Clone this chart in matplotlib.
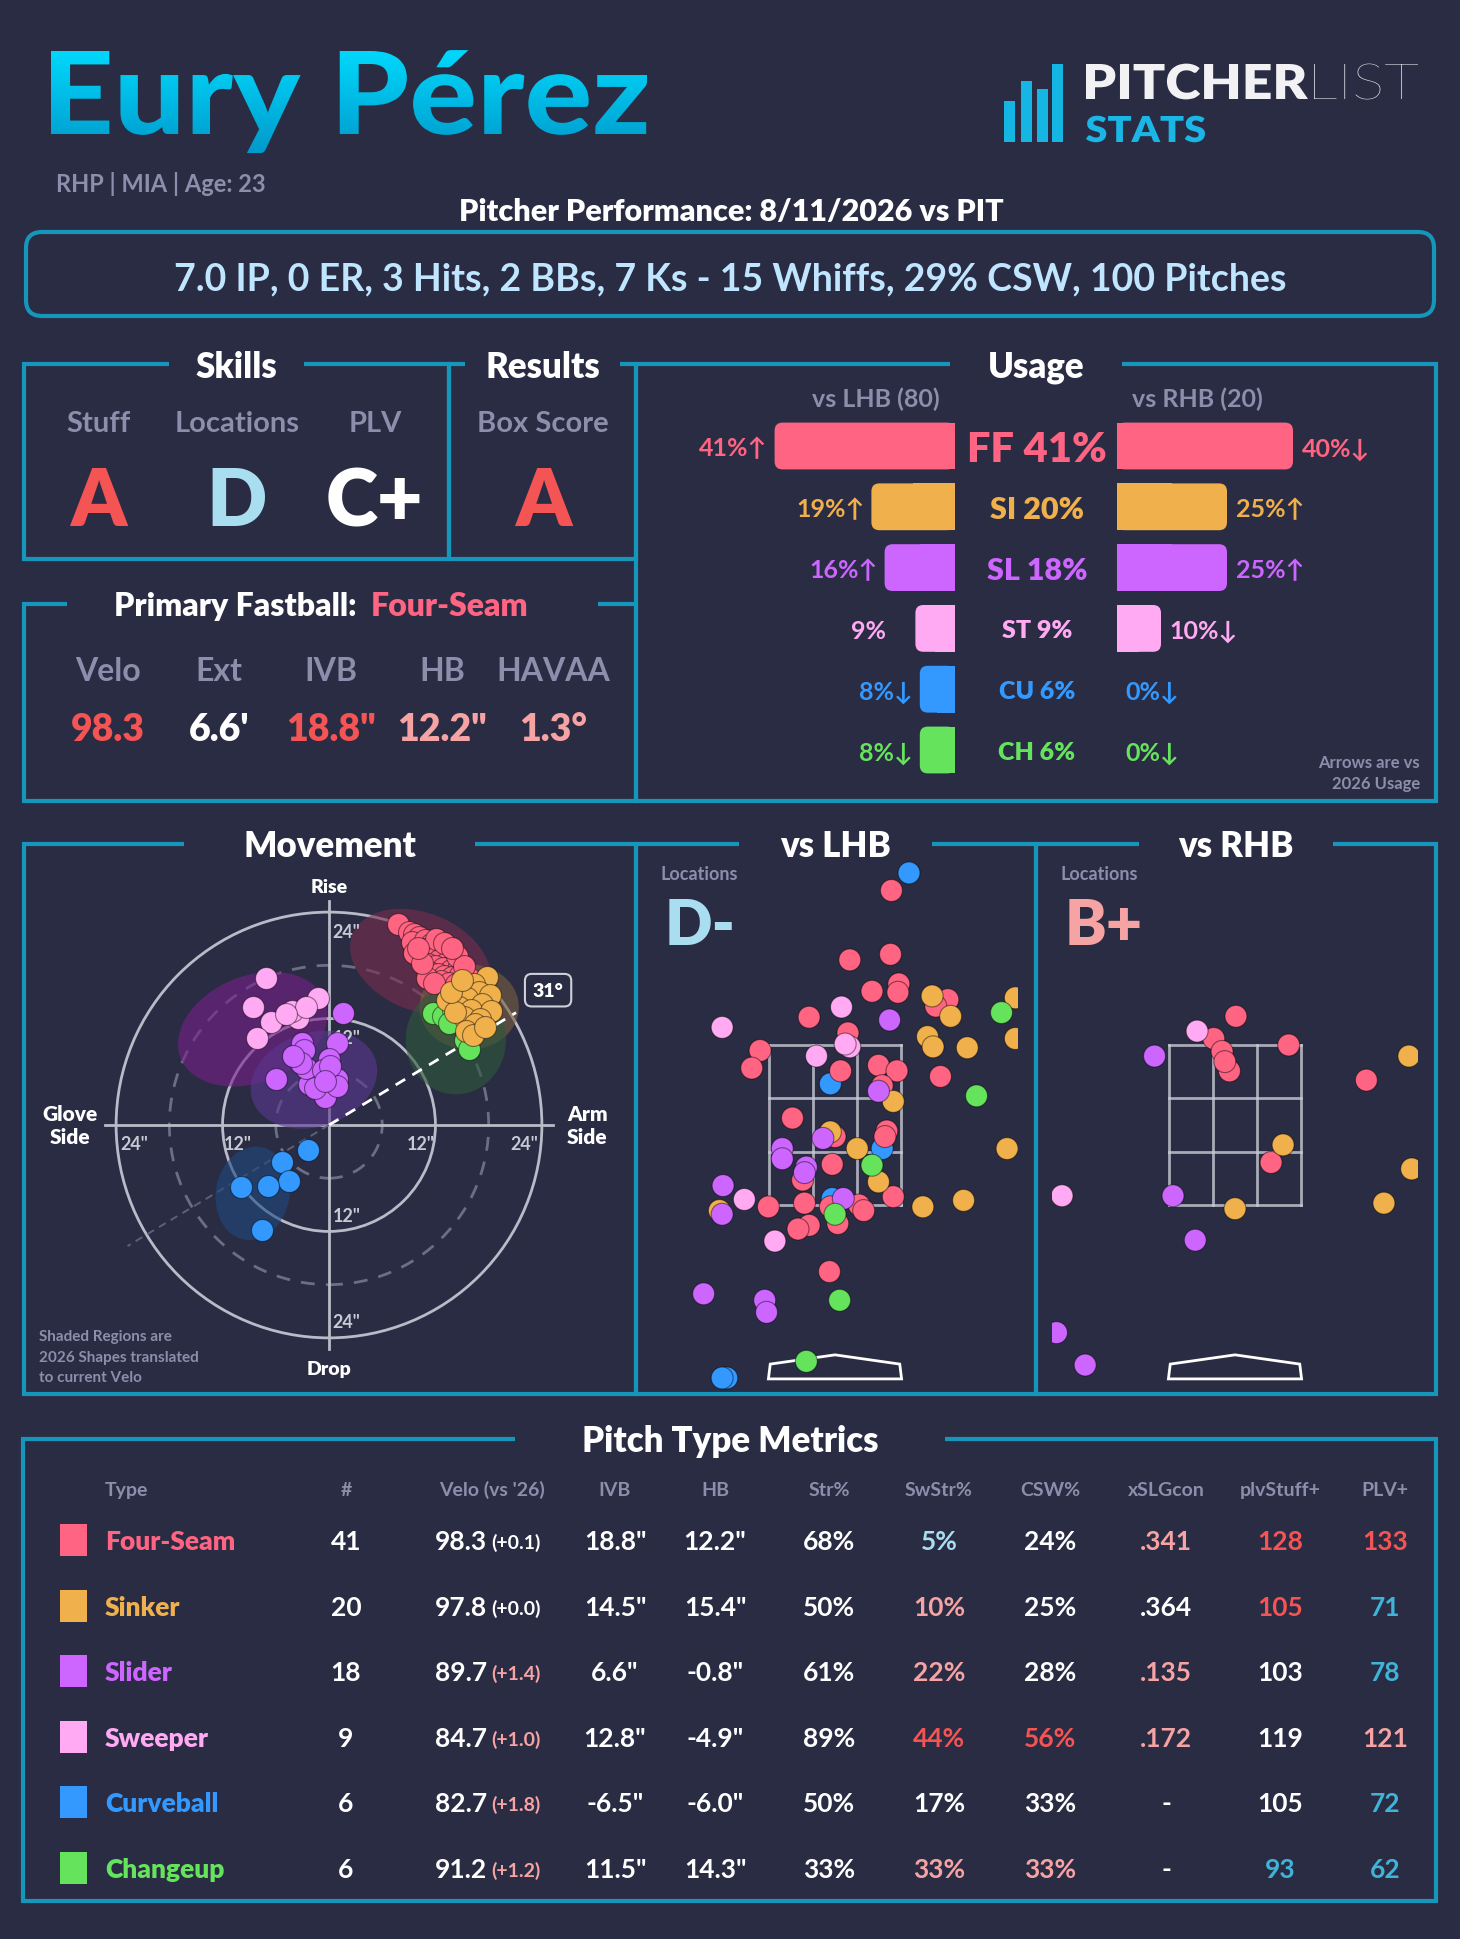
import numpy as np
import matplotlib
matplotlib.use("Agg")
import matplotlib.pyplot as plt
from matplotlib.patches import Rectangle, FancyBboxPatch, Circle, Ellipse, Polygon, PathPatch
from matplotlib.textpath import TextPath
from matplotlib.font_manager import FontProperties
from matplotlib.transforms import Affine2D, blended_transform_factory
from matplotlib.colors import LinearSegmentedColormap

W, H = 1460, 1940
BG = "#2a2c43"
TEAL = "#1596ba"
GRAY = "#8b8fab"
WHITE = "#ffffff"
RED = "#f55454"
LRED = "#f5a3a3"
LBLUE = "#a8def0"
BLUE = "#3fb4d8"
FONT = ["Lato", "DejaVu Sans"]

# ---------------- data ----------------
player = "Eury Pérez"
bio = "RHP | MIA | Age: 23"
game = "Pitcher Performance: 8/11/2026 vs PIT"
line = "7.0 IP, 0 ER, 3 Hits, 2 BBs, 7 Ks - 15 Whiffs, 29% CSW, 100 Pitches"

pitch_codes = ["FF", "SI", "SL", "ST", "CU", "CH"]
pitch_names = ["Four-Seam", "Sinker", "Slider", "Sweeper", "Curveball", "Changeup"]
pitch_colors = ["#ff6482", "#f0b04c", "#cc66ff", "#ffaaf2", "#3399ff", "#66e35c"]
colmap = dict(zip(pitch_codes, pitch_colors))

grade_labels = ["Stuff", "Locations", "PLV", "Box Score"]
grades = ["A", "D", "C+", "A"]
grade_colors = [RED, LBLUE, WHITE, RED]

fb_labels = ["Velo", "Ext", "IVB", "HB", "HAVAA"]
fb_values = ["98.3", "6.6'", '18.8"', '12.2"', "1.3°"]
fb_colors = [RED, WHITE, RED, LRED, LRED]

usage_all = [41, 20, 18, 9, 6, 6]
usage_lhb = [41, 19, 16, 9, 8, 8]
arrow_lhb = ["↑", "↑", "↑", "", "↓", "↓"]
usage_rhb = [40, 25, 25, 10, 0, 0]
arrow_rhb = ["↓", "↑", "↑", "↓", "↓", "↓"]
n_lhb, n_rhb = 80, 20

# movement (HB, IVB in inches)
ff_hb = [7.8, 9.0, 9.6, 10.2, 9.4, 10.8, 11.5, 12.3, 10.6, 11.9, 12.8, 13.4, 9.6, 10.9, 11.7, 12.4, 13.2, 14.0, 11.2, 12.0, 12.8,
         13.7, 14.5, 11.5, 12.3, 13.0, 13.9, 14.8, 15.8, 12.6, 13.5, 14.3, 11.0, 10.5, 12.1, 13.0, 14.4, 10.0, 11.8, 15.2, 13.9]
ff_ivb = [22.7, 21.8, 21.5, 21.2, 20.6, 20.9, 20.4, 20.2, 19.8, 19.6, 19.5, 19.2, 19.4, 19.0, 18.8, 18.6, 18.3, 18.2, 18.1, 17.9, 17.7,
          17.5, 17.6, 17.1, 17.0, 16.8, 16.7, 16.9, 16.6, 16.2, 16.0, 15.9, 16.6, 18.3, 21.0, 20.5, 19.0, 20.0, 16.0, 17.9, 20.0]
si_hb = [17.8, 16.3, 14.9, 16.9, 18.1, 15.6, 13.3, 17.2, 14.6, 16.0, 18.3, 15.2, 17.0, 14.2, 16.5, 15.4, 16.2, 13.8, 17.6, 15.0]
si_ivb = [16.7, 15.9, 15.4, 15.0, 14.6, 14.3, 14.1, 13.6, 13.3, 13.0, 12.8, 12.2, 12.0, 12.7, 11.4, 10.6, 10.2, 15.0, 11.1, 16.4]
sl_hb = [1.6, 0.9, -3.0, -2.8, 0.0, -1.4, 0.9, -6.0, -2.3, -0.5, -2.6, -3.2, -0.7, 0.9, -1.6, -4.1, 0.1, -0.4]
sl_ivb = [12.6, 9.3, 9.3, 8.4, 7.4, 5.4, 5.2, 5.2, 4.6, 3.2, 6.4, 7.0, 6.2, 4.4, 4.2, 7.8, 6.6, 5.0]
st_hb = [-7.1, -8.6, -6.5, -8.1, -1.2, -3.5, -4.2, -2.6, -4.8]
st_ivb = [16.6, 13.3, 11.6, 9.8, 14.3, 12.1, 12.9, 13.3, 12.5]
cu_hb = [-2.4, -5.3, -4.5, -6.9, -9.9, -7.6]
cu_ivb = [-2.8, -4.2, -6.3, -6.9, -7.0, -11.8]
ch_hb = [11.7, 12.9, 15.3, 15.8, 14.0, 13.5]
ch_ivb = [12.6, 12.3, 9.6, 8.6, 13.0, 11.5]
arm_angle = 31

# 2026 shapes (translated), as ellipses
shape_codes = ["FF", "SI", "CH", "ST", "SL", "CU"]
shape_hb = [10.3, 15.8, 14.3, -8.6, -1.7, -8.6]
shape_ivb = [18.4, 13.3, 9.6, 10.8, 5.1, -7.7]
shape_w = [16.5, 11.2, 11.3, 17.5, 14.6, 8.3]
shape_h = [11.0, 9.6, 12.3, 12.0, 10.6, 10.6]
shape_angle = [-22, 0, 0, 22, 18, -10]
shape_colors = ["#7a2f4f", "#7a6040", "#2f5a3a", "#7a1f8c", "#5c3890", "#1f4a80"]

# locations (plate_x, plate_z in feet)
lhb_x = [0.80, -0.05, 0.51, -0.03, -1.17, -1.22,
         0.61, 0.16, 0.60, 0.40, 0.69, 0.68, -0.28, 0.14, 1.22, -0.81, -0.90, 0.06, 0.47, 0.67, 1.14, 0.51, -0.46,
         0.00, 0.56, -0.03, -0.35, -0.33, -0.72, 0.26, 0.63, 0.31, -0.28, -0.40, 0.03, -0.06, 1.09, -0.05, 0.54,
         1.05, 1.25, 1.00, 1.06, 1.43, 1.95, 1.95, 0.63, -0.05, 0.24, 0.47, 1.86, 0.95, 1.39, -1.25,
         0.59, 0.47, -0.13, -0.57, -0.57, -0.31, -0.33, -1.21, 0.09, -1.22, -1.42, -0.76, -0.74,
         -1.22, 0.07, 0.16, -0.20, -0.98, -0.65, 0.11,
         1.80, 1.53, 0.40, 0.00, 0.05, -0.31]
lhb_z = [5.09, 2.81, 2.11, 1.57, -0.37, -0.37,
         4.90, 4.15, 4.21, 3.81, 3.89, 3.80, 3.53, 3.36, 3.72, 3.17, 2.98, 2.95, 3.01, 2.95, 2.89, 2.79, 2.44,
         2.24, 2.30, 1.94, 1.77, 1.52, 1.48, 1.50, 1.59, 1.44, 1.28, 1.24, 1.30, 0.78, 3.65, 1.48, 2.24,
         3.76, 3.54, 3.32, 3.21, 3.20, 3.74, 3.30, 2.62, 2.29, 2.11, 1.75, 2.11, 1.48, 1.55, 1.44,
         3.50, 2.73, 2.22, 2.11, 2.00, 1.91, 1.85, 1.71, 1.57, 1.40, 0.54, 0.47, 0.34,
         3.42, 3.64, 3.21, 3.11, 1.56, 1.11, 3.24,
         3.58, 2.68, 1.93, 1.40, 0.47, -0.19]
lhb_type = ["CU"] * 6 + ["FF"] * 33 + ["SI"] * 15 + ["SL"] * 13 + ["ST"] * 7 + ["CH"] * 6

rhb_x = [0.01, -0.23, -0.14, -0.06, 0.58, 1.42, 0.39, -0.11,
         1.88, 0.52, 1.91, 0.00, 1.61,
         -0.87, -0.67, -0.43, -1.93, -1.62,
         -0.41, -1.87]
rhb_z = [3.54, 3.30, 3.16, 2.95, 3.23, 2.85, 1.96, 3.05,
         3.11, 2.15, 1.89, 1.46, 1.52,
         3.11, 1.60, 1.12, 0.12, -0.23,
         3.38, 1.60]
rhb_type = ["FF"] * 8 + ["SI"] * 5 + ["SL"] * 5 + ["ST"] * 2
loc_grades = ["D-", "B+"]
loc_grade_colors = [LBLUE, LRED]

# pitch type metrics
counts = [41, 20, 18, 9, 6, 6]
velo = [98.3, 97.8, 89.7, 84.7, 82.7, 91.2]
velo_diff = [0.1, 0.0, 1.4, 1.0, 1.8, 1.2]
ivb = [18.8, 14.5, 6.6, 12.8, -6.5, 11.5]
hb = [12.2, 15.4, -0.8, -4.9, -6.0, 14.3]
strike_pct = [68, 50, 61, 89, 50, 33]
swstr_pct = [5, 10, 22, 44, 17, 33]
csw_pct = [24, 25, 28, 56, 33, 33]
xslgcon = [".341", ".364", ".135", ".172", "-", "-"]
plv_stuff = [128, 105, 103, 119, 105, 93]
plv_plus = [133, 71, 78, 121, 72, 62]
col_vdiff = [WHITE, WHITE, LRED, LRED, LRED, LRED]
col_swstr = [LBLUE, LRED, LRED, RED, WHITE, LRED]
col_csw = [WHITE, WHITE, WHITE, RED, WHITE, LRED]
col_xslg = [LRED, WHITE, LRED, LRED, WHITE, WHITE]
col_stuff = [RED, RED, WHITE, WHITE, WHITE, BLUE]
col_plv = [RED, BLUE, BLUE, LRED, BLUE, BLUE]
table_headers = ["Type", "#", "Velo (vs '26)", "IVB", "HB", "Str%", "SwStr%", "CSW%", "xSLGcon", "plvStuff+", "PLV+"]

# ---------------- figure ----------------
plt.rcParams["font.family"] = FONT
fig = plt.figure(figsize=(W / 100, H / 100), dpi=100, facecolor=BG)
ax = fig.add_axes([0, 0, 1, 1])
ax.axis("off")


def px_axes(x0, y0, x1, y1):
    a = fig.add_axes([x0 / W, 1 - y1 / H, (x1 - x0) / W, (y1 - y0) / H])
    a.axis("off")
    a.patch.set_visible(False)
    return a


def txt(x, y, s, size, color=WHITE, weight="bold", ha="center"):
    # y is the vertical centre of the capitals
    return ax.text(x, y + 0.5 * size, s, fontsize=size, color=color, fontweight=weight, ha=ha, va="baseline")


def frame(x0, y0, x1, y1, g0, g1, title):
    ax.plot([g0, x0, x0, x1, x1, g1], [y0, y0, y1, y1, y0, y0], color=TEAL, lw=3,
            solid_joinstyle="miter", solid_capstyle="butt")
    txt((g0 + g1) / 2, y0, title, 25, WHITE, "heavy")


def path_text(s, weight, x0, x1, base, cap_px):
    # text drawn as a path stretched to a given box
    fpx = FontProperties(family="Lato", weight=weight)
    p = TextPath((0, 0), s, size=100, prop=fpx)
    b = p.get_extents()
    c = TextPath((0, 0), "E", size=100, prop=fpx).get_extents().height
    t = Affine2D().translate(-b.x0, 0).scale((x1 - x0) / b.width, -cap_px / c).translate(x0, base)
    return PathPatch(p, transform=t + ax.transData, lw=0)


# title with gradient
tpatch = path_text(player, "black", 51, 647, 135, 83)
tpatch.set_facecolor("none")
ax.add_patch(tpatch)
grad = np.linspace(0, 1, 256).reshape(-1, 1)
tcmap = LinearSegmentedColormap.from_list("title", ["#00dcff", "#0093c6"])
im = ax.imshow(grad, cmap=tcmap, extent=(40, 660, 165, 45), aspect="auto", origin="upper", zorder=3)
im.set_clip_path(tpatch)

# logo
for bx, top in zip([1004, 1021, 1037, 1052], [102, 82, 90, 65]):
    ax.add_patch(Rectangle((bx, top), 11, 143 - top, color="#15b6e4", lw=0))
lp = path_text("PITCHER", "heavy", 1086, 1308, 100, 35)
lp.set_facecolor("#f2f2f5")
ax.add_patch(lp)
lp = path_text("LIST", "light", 1314, 1418, 100, 35)
lp.set_facecolor("#f2f2f5")
ax.add_patch(lp)
lp = path_text("STATS", "heavy", 1086, 1205, 143, 26)
lp.set_facecolor("#19b6e6")
ax.add_patch(lp)

txt(56, 183, bio, 17, GRAY, "bold", "left")
txt(731, 210, game, 22, WHITE, "heavy")
ax.add_patch(FancyBboxPatch((26, 233), 1408, 84, boxstyle="round,pad=0,rounding_size=16",
                            fc="none", ec=TEAL, lw=3))
txt(730, 277, line, 27, "#bfe5ff", "bold")

# skills / results
frame(24, 365, 449, 560, 169, 304, "Skills")
frame(449, 365, 636, 560, 465, 620, "Results")
for x, lab, g, c in zip([98, 237, 375, 543], grade_labels, grades, grade_colors):
    txt(x, 422, lab, 21, GRAY, "bold")
    txt(x, 498, g, 57, c, "heavy")

# primary fastball
ax.plot([67, 24, 24, 636, 636, 598], [605, 605, 802, 802, 605, 605], color=TEAL, lw=3,
        solid_joinstyle="miter", solid_capstyle="butt")
txt(357, 605, "Primary Fastball:", 23, WHITE, "heavy", "right")
txt(371, 605, pitch_names[0], 23, pitch_colors[0], "heavy", "left")
for x, lab, v, c in zip([108, 219, 331, 442, 553], fb_labels, fb_values, fb_colors):
    txt(x, 670, lab, 23, GRAY, "bold")
    txt(x, 728, v, 27, c, "heavy")

# usage
frame(636, 365, 1436, 802, 950, 1122, "Usage")
txt(876, 398, f"vs LHB ({n_lhb})", 18, GRAY, "bold")
txt(1197, 398, f"vs RHB ({n_rhb})", 18, GRAY, "bold")
txt(1420, 762, "Arrows are vs", 12, GRAY, "bold", "right")
txt(1420, 783, "2026 Usage", 12, GRAY, "bold", "right")

ul = px_axes(735, 416.6, 955, 781.4)
ul.set_xlim(50, 0)
ul.set_ylim(5.5, -0.5)
ur = px_axes(1117, 416.6, 1337, 781.4)
ur.set_xlim(0, 50)
ur.set_ylim(5.5, -0.5)
bh = 0.77
for i in range(len(pitch_codes)):
    c = pitch_colors[i]
    for a, v, arr, left in [(ul, usage_lhb[i], arrow_lhb[i], True), (ur, usage_rhb[i], arrow_rhb[i], False)]:
        if v > 0:
            a.add_patch(FancyBboxPatch((0, i - bh / 2), v, bh, boxstyle="round,pad=0,rounding_size=1.8",
                                       mutation_aspect=0.073, fc=c, ec="none"))
            a.barh(i, v / 2, height=bh, left=0, color=c, lw=0)
        if left:
            off = 1.6 if arr else 6.6
            a.text(v + off, i, f"{v}%{arr}", ha="right", va="center_baseline", fontsize=18,
                   color=c, fontweight="bold", clip_on=False)
        else:
            a.text(v + 2.0, i, f"{v}%{arr}", ha="left", va="center_baseline", fontsize=18,
                   color=c, fontweight="bold", clip_on=False)
center_sizes = [30, 22, 22, 18, 18, 18]
bt = blended_transform_factory(ax.transData, ul.transData)
for i, code in enumerate(pitch_codes):
    ax.text(1037, i, f"{code} {usage_all[i]}%", transform=bt, ha="center", va="center_baseline",
            fontsize=center_sizes[i], color=pitch_colors[i], fontweight="heavy")

# movement
frame(24, 845, 636, 1395, 184, 475, "Movement")
sc = 8.87
ox, oy = 329, 1126
mv = px_axes(40, 880, 618, 1380)
mv.set_xlim((40 - ox) / sc, (618 - ox) / sc)
mv.set_ylim((oy - 1380) / sc, (oy - 880) / sc)
for r, ls, col in [(24, "-", "#b9bbc8"), (12, "-", "#b9bbc8"), (18, (0, (5, 4)), "#6c6e84"), (6, (0, (5, 4)), "#6c6e84")]:
    mv.add_patch(Circle((0, 0), r, fill=False, ec=col, lw=2, ls=ls, zorder=1))
mv.plot([-25.2, 25.2], [0, 0], color="#b9bbc8", lw=2, zorder=1)
mv.plot([0, 0], [-25.2, 25.2], color="#b9bbc8", lw=2, zorder=1)
for code, hx, vy, w, h, ang, c in zip(shape_codes, shape_hb, shape_ivb, shape_w, shape_h, shape_angle, shape_colors):
    mv.add_patch(Ellipse((hx, vy), w, h, angle=ang, fc=c, ec="none", alpha=0.6, zorder=2))
rad = np.radians(arm_angle)
mv.plot([0, 24.6 * np.cos(rad)], [0, 24.6 * np.sin(rad)], color="white", lw=2, ls=(0, (4, 3)), zorder=3)
mv.plot([0, -26.5 * np.cos(rad)], [0, -26.5 * np.sin(rad)], color="#5e6078", lw=1.4, ls=(0, (4, 3)), zorder=1)
mv.text(24.7, 15.2, f"{arm_angle}°", ha="center", va="center", fontsize=14, color=WHITE, fontweight="heavy",
        bbox=dict(boxstyle="round,pad=0.4,rounding_size=0.35", fc=BG, ec="#cfd0da", lw=1.5), zorder=6)
for xs, ys, code in [(ff_hb, ff_ivb, "FF"), (ch_hb, ch_ivb, "CH"), (si_hb, si_ivb, "SI"),
                     (st_hb, st_ivb, "ST"), (sl_hb, sl_ivb, "SL"), (cu_hb, cu_ivb, "CU")]:
    mv.scatter(xs, ys, s=250, color=colmap[code], edgecolor=(0, 0, 0, 0.45), lw=0.8, zorder=4)
for x, y, s in [(2.0, 22.0, '24"'), (2.0, 10.0, '12"'), (2.0, -10.0, '12"'), (2.0, -22.0, '24"'),
                (-21.9, -1.9, '24"'), (-10.3, -1.9, '12"'), (10.3, -1.9, '12"'), (22.0, -1.9, '24"')]:
    mv.text(x, y, s, ha="center", va="center_baseline", fontsize=13, color="#c8c9d4", fontweight="bold", zorder=3)
mv.text(0, 27.1, "Rise", ha="center", va="center_baseline", fontsize=14, color=WHITE, fontweight="heavy")
mv.text(0, -27.3, "Drop", ha="center", va="center_baseline", fontsize=14, color=WHITE, fontweight="heavy")
mv.text(-29.2, 0, "Glove\nSide", ha="center", va="center", fontsize=15, color=WHITE, fontweight="heavy",
        linespacing=1.3, clip_on=False)
mv.text(29.1, 0, "Arm\nSide", ha="center", va="center", fontsize=15, color=WHITE, fontweight="heavy",
        linespacing=1.3, clip_on=False)
for k, s in enumerate(["Shaded Regions are", "2026 Shapes translated", "to current Velo"]):
    txt(39, 1336 + 20.5 * k, s, 11, GRAY, "bold", "left")

# locations
frame(636, 845, 1036, 1395, 739, 932, "vs LHB")
frame(1036, 845, 1436, 1395, 1139, 1333, "vs RHB")
ppf = 92.5
zone_bot, zone_h, zone_w = 1.5, 1.73, 17 / 12
for k, (x0, cx, xs, zs, ts) in enumerate([(652, 835, lhb_x, lhb_z, lhb_type), (1052, 1235, rhb_x, rhb_z, rhb_type)]):
    la = px_axes(x0, 850, x0 + 366, 1392)
    la.set_xlim((x0 - cx) / ppf, (x0 + 366 - cx) / ppf)
    la.set_ylim(zone_bot - (1392 - 1206) / ppf, zone_bot + (1206 - 850) / ppf)
    for j in range(4):
        xx = -zone_w / 2 + j * zone_w / 3
        la.plot([xx, xx], [zone_bot, zone_bot + zone_h], color="#c9cad4", lw=2, alpha=0.8, zorder=1)
        zz = zone_bot + j * zone_h / 3
        la.plot([-zone_w / 2, zone_w / 2], [zz, zz], color="#c9cad4", lw=2, alpha=0.8, zorder=1)
    la.add_patch(Polygon([(-0.70, -0.22), (0, -0.12), (0.70, -0.22), (0.72, -0.38), (-0.72, -0.38)],
                         closed=True, fill=False, ec=WHITE, lw=2, zorder=1))
    la.scatter(xs, zs, s=250, c=[colmap[t] for t in ts], edgecolor=(0, 0, 0, 0.45), lw=0.8, zorder=3)
    lx = 661 + 400 * k
    txt(lx, 874, "Locations", 13, GRAY, "bold", "left")
    txt(lx + 4, 923, loc_grades[k], 45, loc_grade_colors[k], "heavy", "left")

# pitch type metrics table
frame(23, 1440, 1436, 1902, 515, 945, "Pitch Type Metrics")
col_x = [105, 346, 492, 615, 715, 829, 939, 1050, 1166, 1280, 1385]
for k, (x, h) in enumerate(zip(col_x, table_headers)):
    txt(x, 1489, h, 14, GRAY, "bold", "left" if k == 0 else "center")
for i in range(len(pitch_names)):
    y = 1541 + 65.5 * i
    ax.add_patch(Rectangle((60, y - 16), 27, 32, color=pitch_colors[i], lw=0))
    txt(105, y, pitch_names[i], 19, pitch_colors[i], "heavy", "left")
    txt(col_x[1], y, str(counts[i]), 19, WHITE, "bold")
    txt(487, y, f"{velo[i]:.1f}", 19, WHITE, "bold", "right")
    txt(491, y + 1, f"(+{velo_diff[i]:.1f})", 14, col_vdiff[i], "bold", "left")
    txt(col_x[3], y, f'{ivb[i]:.1f}"', 19, WHITE, "bold")
    txt(col_x[4], y, f'{hb[i]:.1f}"', 19, WHITE, "bold")
    txt(col_x[5], y, f"{strike_pct[i]}%", 19, WHITE, "bold")
    txt(col_x[6], y, f"{swstr_pct[i]}%", 19, col_swstr[i], "bold")
    txt(col_x[7], y, f"{csw_pct[i]}%", 19, col_csw[i], "bold")
    txt(col_x[8], y, xslgcon[i], 19, col_xslg[i], "bold")
    txt(col_x[9], y, str(plv_stuff[i]), 19, col_stuff[i], "bold")
    txt(col_x[10], y, str(plv_plus[i]), 19, col_plv[i], "bold")

ax.set_xlim(0, W)
ax.set_ylim(H, 0)
fig.savefig("out.png", dpi=100, facecolor=BG)
